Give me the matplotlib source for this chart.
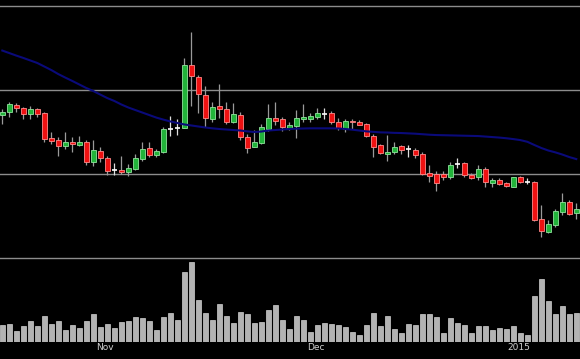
"""Daily candlestick chart with moving average and volume, dark theme.

Saves out.png (580x359).
"""
import matplotlib
matplotlib.use("Agg")
import matplotlib.pyplot as plt
import numpy as np

# OHLC, one entry per trading day
opens = [385.1, 386.7, 391.1, 389.1, 385.7, 388.7, 386.1, 371.6, 370.2, 366.5,
         369.1, 367.4, 369.1, 357.0, 363.5, 359.5, 352.4, 352.6, 351.0, 353.2,
         358.8, 365.5, 361.5, 363.1, 377.0, 377.4, 377.6, 414.7, 407.6, 397.2,
         382.6, 390.3, 388.9, 380.8, 385.1, 372.2, 366.3, 368.6, 377.0, 383.3,
         382.6, 377.2, 378.6, 382.6, 382.9, 383.9, 385.7, 386.1, 380.8, 377.0,
         381.7, 380.8, 379.6, 372.8, 367.3, 361.7, 363.3, 366.5, 364.9, 364.3,
         362.1, 350.6, 349.8, 350.2, 348.0, 355.8, 356.4, 349.4, 348.4, 353.0,
         344.5, 346.4, 344.8, 342.4, 348.0, 345.4, 345.4, 323.0, 315.7, 319.7,
         327.6, 333.5, 326.6]
highs = [388.7, 393.0, 392.4, 390.1, 390.7, 389.1, 386.9, 375.2, 372.2, 375.2,
         372.2, 372.8, 370.2, 370.2, 365.9, 360.7, 356.4, 360.7, 356.0, 361.7,
         369.1, 368.9, 364.7, 378.2, 384.5, 382.7, 419.1, 434.4, 408.9, 402.6,
         392.7, 403.8, 393.0, 392.1, 386.7, 373.8, 376.2, 379.9, 391.5, 393.0,
         383.8, 380.8, 388.1, 391.5, 386.1, 389.1, 389.1, 387.5, 383.5, 382.7,
         382.7, 382.2, 380.4, 373.8, 368.0, 373.2, 368.9, 367.3, 367.3, 365.7,
         363.3, 355.4, 351.8, 351.6, 357.3, 359.4, 357.1, 350.4, 355.5, 354.0,
         347.8, 347.8, 345.4, 348.4, 348.8, 347.5, 346.0, 331.4, 322.6, 329.0,
         338.9, 334.5, 332.6]
lows = [379.8, 383.8, 386.9, 382.6, 382.6, 384.1, 369.2, 367.7, 360.9, 364.9,
        363.3, 366.5, 355.2, 354.6, 357.3, 349.4, 349.2, 350.0, 348.6, 352.4,
        357.6, 360.3, 360.3, 362.3, 372.4, 373.2, 377.2, 390.5, 386.1, 378.2,
        380.8, 383.2, 379.6, 380.2, 370.2, 362.3, 365.9, 367.9, 375.6, 379.2,
        375.6, 376.2, 371.3, 380.8, 381.1, 382.7, 382.6, 379.6, 376.0, 375.2,
        376.8, 379.2, 372.2, 360.3, 361.7, 357.7, 361.9, 361.9, 360.3, 359.4,
        349.4, 345.4, 339.9, 346.4, 347.2, 353.6, 348.4, 346.9, 346.4, 342.4,
        342.1, 343.3, 342.1, 342.1, 344.5, 344.0, 322.0, 312.3, 314.7, 318.6,
        325.6, 325.6, 323.0]
closes = [386.9, 391.7, 389.1, 385.7, 388.5, 385.7, 371.0, 369.8, 366.5, 369.1,
          367.7, 369.2, 357.0, 364.3, 359.4, 352.0, 352.4, 351.0, 353.4, 359.4,
          365.1, 361.5, 363.7, 377.0, 377.0, 377.4, 414.7, 408.3, 397.8, 383.2,
          390.1, 388.5, 381.1, 385.5, 371.9, 365.7, 368.9, 377.8, 383.3, 381.7,
          377.8, 379.2, 383.2, 383.9, 384.5, 386.1, 385.7, 381.1, 377.2, 381.7,
          381.0, 379.4, 372.8, 366.1, 362.3, 363.3, 366.3, 364.1, 364.9, 361.3,
          350.2, 349.0, 344.8, 348.0, 355.5, 355.8, 349.6, 347.8, 352.8, 345.2,
          346.4, 344.2, 342.9, 348.2, 345.1, 345.4, 322.6, 316.1, 320.1, 327.8,
          333.3, 326.0, 329.0]

# moving average overlay
ma = [423.5, 422.0, 420.5, 419.1, 417.6, 416.1, 414.0, 411.9, 409.5, 407.4,
      405.4, 403.3, 401.2, 399.4, 397.3, 395.2, 393.5, 391.4, 389.6, 388.1,
      386.6, 385.1, 383.6, 382.4, 381.3, 380.4, 379.5, 378.9, 378.3, 377.7,
      377.2, 376.8, 376.5, 376.2, 375.9, 375.4, 375.0, 375.3, 375.9, 376.2,
      376.5, 376.8, 377.0, 377.1, 377.2, 377.2, 377.2, 377.2, 377.1, 376.8,
      376.4, 375.9, 375.4, 375.1, 374.8, 374.7, 374.5, 374.4, 374.2, 374.0,
      373.7, 373.4, 373.2, 373.1, 373.0, 372.9, 372.8, 372.7, 372.6, 372.3,
      372.0, 371.7, 371.3, 370.8, 370.2, 369.2, 367.3, 365.5, 364.0, 362.9,
      361.6, 360.1, 358.9]

# volume (thousands)
volume = [17.0, 18.0, 11.0, 15.7, 20.7, 16.3, 26.3, 18.0, 20.7, 11.7,
          17.0, 14.3, 21.3, 27.7, 15.0, 18.3, 13.7, 20.0, 20.7, 25.0,
          24.3, 21.3, 11.7, 25.0, 29.3, 22.3, 70.0, 80.3, 42.3, 29.3,
          22.3, 38.3, 25.7, 19.3, 30.0, 28.3, 18.7, 20.3, 32.0, 37.0,
          21.7, 13.3, 26.3, 22.3, 9.7, 17.3, 18.7, 18.0, 17.0, 15.3,
          10.3, 7.3, 17.0, 29.3, 16.3, 26.3, 13.0, 9.3, 18.0, 17.0,
          28.3, 28.3, 25.3, 8.7, 24.0, 19.0, 17.0, 9.3, 15.7, 16.3,
          11.7, 14.3, 13.0, 16.3, 8.7, 7.3, 45.7, 63.3, 41.0, 28.3,
          36.0, 28.3, 29.3]

# month labels and where they fall on the day index
month_labels = ["Nov", "Dec", "2015"]
month_pos = [14.7, 44.8, 73.75]

price_grid = [300, 350, 400, 450]

BG = "black"
UP, UP_EDGE = "#22b33a", "#8fe39c"
DOWN, DOWN_EDGE = "#ee1111", "#ff8a8a"
WICK = "#9a9a9a"
GRID = "#8c8c8c"


def main():
    o = np.array(opens)
    h = np.array(highs)
    lo = np.array(lows)
    c = np.array(closes)
    x = np.arange(len(o))

    fig = plt.figure(figsize=(5.8, 3.59), dpi=100, facecolor=BG)
    # volume panel first so the price panel (and its bottom grid line) sits on top
    axv = fig.add_axes([0, 17 / 359, 1, 84 / 359])
    ax = fig.add_axes([0, 101 / 359, 1, 258 / 359], sharex=axv)
    ax.patch.set_alpha(0)
    axv.set_facecolor(BG)
    for a in (ax, axv):
        for s in a.spines.values():
            s.set_visible(False)

    for g in price_grid:
        ax.axhline(g, color=GRID, lw=1.0, zorder=0, clip_on=False)

    up = c > o
    down = c < o
    doji = ~(up | down)
    width = 0.72

    ax.vlines(x[~doji], lo[~doji], h[~doji], color=WICK, lw=0.9, zorder=1)
    ax.vlines(x[doji], lo[doji], h[doji], color="#dddddd", lw=0.9, zorder=1)
    ax.bar(x[up], (c - o)[up], bottom=o[up], width=width,
           color=UP, edgecolor=UP_EDGE, linewidth=0.6, zorder=2)
    ax.bar(x[down], (o - c)[down], bottom=c[down], width=width,
           color=DOWN, edgecolor=DOWN_EDGE, linewidth=0.6, zorder=2)
    ax.hlines(c[doji], x[doji] - width / 2, x[doji] + width / 2,
              color="white", lw=1.2, zorder=2)

    ax.plot(x, ma, color="#0a0a7a", lw=1.5, zorder=3)

    ax.set_ylim(300, 453.6)
    ax.set_xlim(-0.33, 82.53)
    ax.set_yticks([])
    ax.tick_params(axis="x", length=0, labelbottom=False)

    axv.bar(x, volume, width=width, color="#b3b3b3",
            edgecolor="#cfcfcf", linewidth=0.5)
    axv.set_ylim(0, 84)
    axv.set_yticks([])
    axv.set_xticks(month_pos)
    axv.set_xticklabels(month_labels)
    axv.tick_params(axis="x", length=0, pad=1, labelsize=6.5,
                    labelcolor="#d0d0d0")

    plt.savefig("out.png", dpi=100, facecolor=BG)


if __name__ == "__main__":
    main()
